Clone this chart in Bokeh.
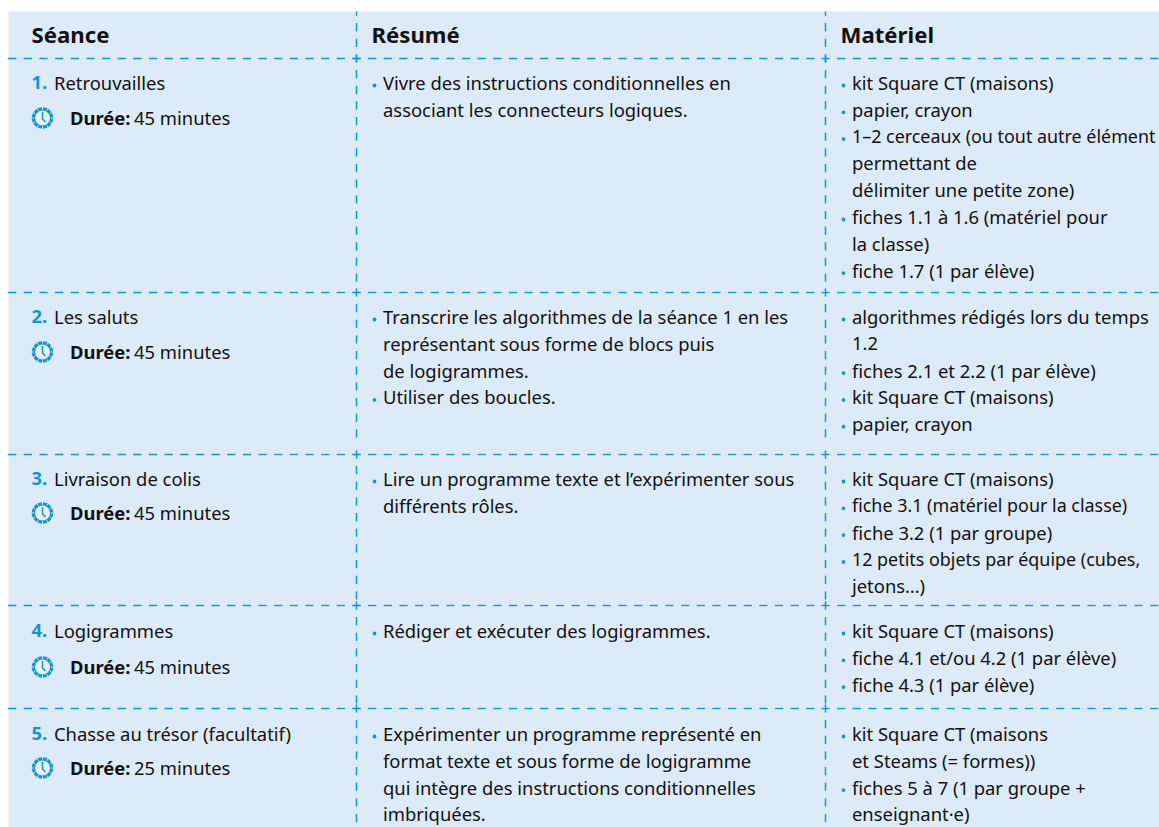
from math import cos, sin, pi
import numpy as np
from bokeh.plotting import figure
from bokeh.core.properties import value
from bokeh.embed import file_html
from bokeh.resources import INLINE

HEADERS = ["Séance", "Résumé", "Matériel"]
NUMBERS = ["1.", "2.", "3.", "4.", "5."]
TITLES = ["Retrouvailles", "Les saluts", "Livraison de colis", "Logigrammes", "Chasse au trésor (facultatif)"]
DURATIONS = ["45 minutes", "45 minutes", "45 minutes", "45 minutes", "25 minutes"]
RESUME = [
    ["•Vivre des instructions conditionnelles en", "associant les connecteurs logiques."],
    ["•Transcrire les algorithmes de la séance 1 en les", "représentant sous forme de blocs puis", "de logigrammes.", "•Utiliser des boucles."],
    ["•Lire un programme texte et l’expérimenter sous", "différents rôles."],
    ["•Rédiger et exécuter des logigrammes."],
    ["•Expérimenter un programme représenté en", "format texte et sous forme de logigramme", "qui intègre des instructions conditionnelles", "imbriquées."],
]
MATERIEL = [
    ["•kit Square CT (maisons)", "•papier, crayon", "•1–2 cerceaux (ou tout autre élément", "permettant de", "délimiter une petite zone)", "•fiches 1.1 à 1.6 (matériel pour", "la classe)", "•fiche 1.7 (1 par élève)"],
    ["•algorithmes rédigés lors du temps", "1.2", "•fiches 2.1 et 2.2 (1 par élève)", "•kit Square CT (maisons)", "•papier, crayon"],
    ["•kit Square CT (maisons)", "•fiche 3.1 (matériel pour la classe)", "•fiche 3.2 (1 par groupe)", "•12 petits objets par équipe (cubes,", "jetons…)"],
    ["•kit Square CT (maisons)", "•fiche 4.1 et/ou 4.2 (1 par élève)", "•fiche 4.3 (1 par élève)"],
    ["•kit Square CT (maisons", "et Steams (= formes))", "•fiches 5 à 7 (1 par groupe +", "enseignant·e)"],
]

W, H = 1159, 827
X0 = 8
TOP, HEAD_LINE = 11, 58
ROW_LINES = [292, 454, 605, 708]
ROW_FIRST = [82, 316, 478, 630, 733]
DURATION_Y = [117, 351, 512, 666, 767]
LINE_H = 26.8
COL_V = [356, 825]
BG, BLUE = "#ddebf9", "#0e96d9"
INK = "#111111"
FONT = "Noto Sans"
SIZE = "18.4px"
TIGHT_SIZE = "17.9px"
PERIOD, DASH_LEN = 15.65, 8.2

p = figure(width=W, height=H, x_range=(0, W), y_range=(H, 0),
           output_backend="svg", toolbar_location=None, min_border=0)
p.axis.visible = False
p.grid.visible = False
p.outline_line_color = None
p.background_fill_color = "white"

p.quad(left=[X0], right=[W], top=[TOP], bottom=[H], fill_color=BG, line_color=None)

def dashes(start, stop):
    """Dash intervals of a rule, the first one centred on start."""
    step = PERIOD if stop > start else -PERIOD
    centres = np.arange(start, stop, step)
    return centres - DASH_LEN / 2, centres + DASH_LEN / 2

for y in [HEAD_LINE] + ROW_LINES:
    for a, b in [(COL_V[0], X0 - 4), (COL_V[0], COL_V[1] - 4), (COL_V[1], W + 4)]:
        x0, x1 = dashes(a, b)
        p.segment(x0, np.full(len(x0), y), x1, np.full(len(x0), y), line_color=BLUE, line_width=1.35)
bounds = [TOP, HEAD_LINE] + ROW_LINES + [H + 8]
for x in COL_V:
    a0, a1 = dashes(HEAD_LINE, TOP - 4)
    keep = a1 >= TOP
    p.segment(np.full(keep.sum(), x), np.maximum(a0[keep], TOP), np.full(keep.sum(), x), a1[keep],
              line_color=BLUE, line_width=1.5)
    for a, b in zip(bounds[1:-1], bounds[2:]):
        y0, y1 = dashes(a, b - 8)
        p.segment(np.full(len(y0), x), y0, np.full(len(y0), x), y1, line_color=BLUE, line_width=1.5)

def put(rows, x, y, color=INK, style="normal", size=SIZE):
    p.text(x=x, y=y, text=rows, text_color=color, text_font=value(FONT),
           text_font_size=value(size), text_font_style=style,
           text_baseline="middle", text_align="left")

put(HEADERS, [31, 371, 840], [34, 34, 34], style="bold", size="22.2px")

def clock(cx, cy):
    p.scatter([cx], [cy], size=21.5, marker="circle", fill_color=BLUE, line_color=None)
    p.scatter([cx], [cy], size=15, marker="circle", fill_color="#eaf3fb", line_color=None)
    for k in range(12):
        a = k * pi / 6
        p.line([cx + 8.4 * cos(a), cx + 11 * cos(a)], [cy + 8.4 * sin(a), cy + 11 * sin(a)],
               line_color=BG, line_width=1)
    p.line([cx, cx, cx + 3], [cy - 6, cy + 1, cy + 4], line_color=BLUE, line_width=1.5)

def bullets(lines, x_bullet, x_text, y0):
    for i, t in enumerate(lines):
        y = y0 + i * LINE_H
        size = TIGHT_SIZE if len(t) > 34 and x_text > 800 else SIZE
        if t.startswith("•"):
            p.scatter([x_bullet], [y + 3], size=3.8, marker="circle", fill_color=BLUE, line_color=None)
            put([t[1:]], [x_text], [y], size=size)
        else:
            put([t], [x_text], [y], size=size)

for i in range(5):
    y = ROW_FIRST[i]
    put([NUMBERS[i]], [31], [y], color=BLUE, style="bold")
    put([TITLES[i]], [53.5], [y])
    clock(42, DURATION_Y[i] + 0.5)
    put(["Durée:"], [69.5], [DURATION_Y[i]], style="bold")
    put([DURATIONS[i]], [133.5], [DURATION_Y[i]])
    bullets(RESUME[i], 374, 382.5, y)
    bullets(MATERIEL[i], 843, 851.5, y)

open("out.html", "w").write(file_html(p, INLINE))
